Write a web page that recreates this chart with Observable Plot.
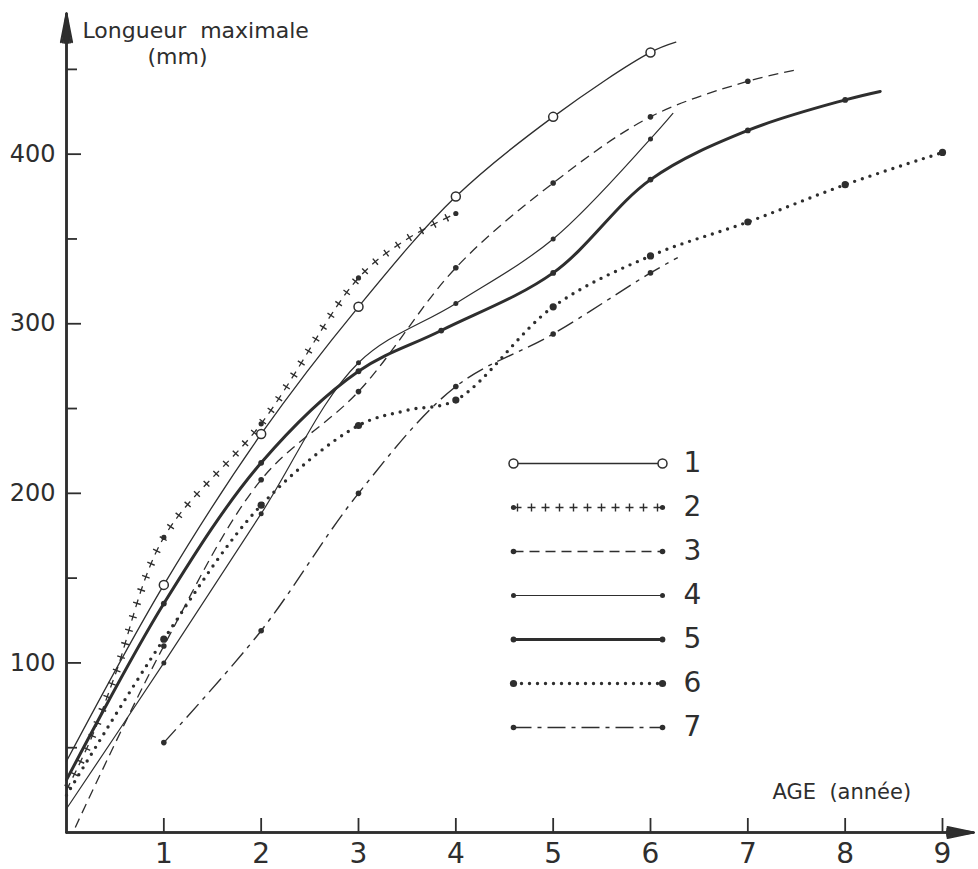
<!DOCTYPE html>
<html><head><meta charset="utf-8">
<script src="https://cdn.jsdelivr.net/npm/d3@7"></script>
<script src="https://cdn.jsdelivr.net/npm/@observablehq/plot@0.6"></script>
<style>
html,body{margin:0;padding:0;background:#fff;}
#wrap{position:relative;width:978px;height:869px;}
#legend{position:absolute;left:480px;top:430px;}
</style></head><body><div id="wrap"><div id="chart"></div><div id="legend"></div></div>
<script>
// ---- tick values / labels ----
const ageTicks = [1, 2, 3, 4, 5, 6, 7, 8, 9];
const lenMajor = [100, 200, 300, 400];
const lenMinor = [50, 150, 250, 350, 450];
const legendLabels = ["1", "2", "3", "4", "5", "6", "7"];
const yLabel = "Longueur\u00a0 maximale";
const yUnit = "(mm)";
const xLabel = "AGE\u00a0 (année)";
const axisXEnd = 9.32;   // age where x-axis arrow tip ends
const axisYEnd = 483;    // length where y-axis arrow tip ends

// ---- series (age in years, max length in mm) ----
// 1 : open circles, thin solid
const s1Age = [1, 2, 3, 4, 5, 6];
const s1Len = [146, 235, 310, 375, 422, 460];
const s1Extra = [[0, 42], [6.26, 466]];
// 2 : crosses
const s2Age = [1, 2, 3, 4];
const s2Len = [174, 241, 327, 365];
const s2Extra = [[0, 25], [0.25, 55], [0.5, 93], [3.5, 350]];
// 3 : dashed
const s3Age = [1, 2, 3, 4, 5, 6, 7];
const s3Len = [110, 208, 260, 333, 383, 422, 443];
const s3Extra = [[0.09, 3], [7.53, 450]];
// 4 : thin solid
const s4Age = [1, 2, 3, 4, 5, 6];
const s4Len = [100, 188, 277, 312, 350, 409];
const s4Extra = [[0, 14], [6.23, 424]];
// 5 : thick solid
const s5Age = [1, 2, 3, 3.85, 5, 6, 7, 8];
const s5Len = [135, 218, 272, 296, 330, 385, 414, 432];
const s5Extra = [[0, 31], [8.36, 437]];
// 6 : dotted
const s6Age = [1, 2, 3, 4, 5, 6, 7, 8, 9];
const s6Len = [114, 193, 240, 255, 310, 340, 360, 382, 401];
const s6Extra = [[0, 22], [3.5, 249]];
// 7 : dash-dot
const s7Age = [1, 2, 3, 4, 5, 6];
const s7Len = [53, 119, 200, 263, 294, 330];
const s7Extra = [[6.28, 339]];

// ---- helpers ----
const ink = "#2e2e2e";
const curve = "catmull-rom";
const rows = (ages, lens) => ages.map((age, i) => ({age, len: lens[i]}));
const pathOf = (ages, lens, extra) =>
  rows(ages, lens).concat(extra.map(([age, len]) => ({age, len}))).sort((a, b) => a.age - b.age);

const lineStyles = {
  "1": [{strokeWidth: 1.3}],
  "2": [{strokeWidth: 1.3, strokeDasharray: "8,6", strokeLinecap: "butt"},
        {strokeWidth: 8, strokeDasharray: "1.4,12.6", strokeDashoffset: -3.3, strokeLinecap: "butt"}],
  "3": [{strokeWidth: 1.3, strokeDasharray: "10,6", strokeLinecap: "butt"}],
  "4": [{strokeWidth: 1.2}],
  "5": [{strokeWidth: 3}],
  "6": [{strokeWidth: 3.4, strokeDasharray: "0,8", strokeLinecap: "round"}],
  "7": [{strokeWidth: 1.4, strokeDasharray: "18,6,4,6", strokeLinecap: "butt"}]
};
const dotStyles = {
  "1": {r: 4.5, fill: "white", stroke: ink, strokeWidth: 1.5},
  "2": {r: 2.6, fill: ink},
  "3": {r: 2.8, fill: ink},
  "4": {r: 2.5, fill: ink},
  "5": {r: 2.9, fill: ink},
  "6": {r: 3.6, fill: ink},
  "7": {r: 2.8, fill: ink}
};

const series = [
  ["1", s1Age, s1Len, s1Extra],
  ["2", s2Age, s2Len, s2Extra],
  ["3", s3Age, s3Len, s3Extra],
  ["4", s4Age, s4Len, s4Extra],
  ["5", s5Age, s5Len, s5Extra],
  ["6", s6Age, s6Len, s6Extra],
  ["7", s7Age, s7Len, s7Extra]
];

const lineMarks = series.flatMap(([k, a, l, e]) =>
  lineStyles[k].map(st => Plot.line(pathOf(a, l, e), {x: "age", y: "len", curve, stroke: ink, strokeLinejoin: "round", ...st})));
const dotMarks = series.map(([k, a, l]) =>
  Plot.dot(rows(a, l), {x: "age", y: "len", ...dotStyles[k]}));

// arrow heads made solid-looking by stacking narrower heads
const headAngles = [22, 15, 9, 4];
const axisArrows = headAngles.flatMap(h => [
  Plot.arrow([0], {x1: () => 0, y1: () => 0, x2: () => 0, y2: () => axisYEnd, stroke: ink, strokeWidth: 2, headLength: 22, headAngle: h}),
  Plot.arrow([0], {x1: () => 0, y1: () => 0, x2: () => axisXEnd, y2: () => 0, stroke: ink, strokeWidth: 2, headLength: 20, headAngle: h + 2})
]);

const chart = Plot.plot({
  width: 978, height: 869,
  marginLeft: 66, marginRight: 36, marginTop: 18, marginBottom: 37,
  x: {domain: [0, 9]},
  y: {domain: [0, 480]},
  style: {fontFamily: "DejaVu Sans, sans-serif", color: ink, background: "white", overflow: "visible"},
  marks: [
    ...axisArrows,
    // inward ticks
    Plot.axisY(lenMinor, {tickSize: 11, dx: 11, tickFormat: () => "", label: null, color: ink, strokeWidth: 1.8}),
    Plot.axisY(lenMajor, {tickSize: 15, dx: 15, tickFormat: () => "", label: null, color: ink, strokeWidth: 1.8}),
    Plot.axisY(lenMajor, {tickSize: 0, tickPadding: 11, fontSize: 24, label: null, color: ink}),
    Plot.axisX(ageTicks, {tickSize: 14, dy: -14, tickFormat: () => "", label: null, color: ink, strokeWidth: 1.8}),
    Plot.axisX(ageTicks, {tickSize: 0, tickPadding: 11, fontSize: 28, label: null, color: ink}),
    // axis titles
    Plot.text([yLabel], {text: d => d, frameAnchor: "top-left", textAnchor: "start", dx: 16, dy: 4, fontSize: 22, fill: ink}),
    Plot.text([yUnit], {text: d => d, frameAnchor: "top-left", textAnchor: "middle", dx: 111, dy: 30, fontSize: 22, fill: ink}),
    Plot.text([xLabel], {text: d => d, frameAnchor: "bottom-right", textAnchor: "start", dx: -170, dy: -34, fontSize: 21, fill: ink}),
    ...lineMarks,
    ...dotMarks
  ]
});
document.getElementById("chart").appendChild(chart);

// ---- legend (drawn with Plot, overlaid inside the plot area) ----
const legendSample = k => [{x: 0, y: k}, {x: 1, y: k}];
const legend = Plot.plot({
  width: 260, height: 320,
  marginLeft: 33, marginRight: 78, marginTop: 32, marginBottom: 23,
  x: {domain: [0, 1], axis: null},
  y: {domain: legendLabels, type: "point", padding: 0, axis: null},
  style: {fontFamily: "DejaVu Sans, sans-serif", color: ink, background: "transparent", overflow: "visible"},
  marks: [
    ...legendLabels.flatMap(k => lineStyles[k].map(st =>
      Plot.line(legendSample(k), {x: "x", y: "y", stroke: ink, ...st}))),
    ...legendLabels.map(k => Plot.dot(legendSample(k), {x: "x", y: "y", ...dotStyles[k]})),
    Plot.text(legendLabels, {x: () => 1, y: d => d, text: d => d, dx: 21, textAnchor: "start", fontSize: 28, fill: ink})
  ]
});
document.getElementById("legend").appendChild(legend);
</script>
</body></html>
